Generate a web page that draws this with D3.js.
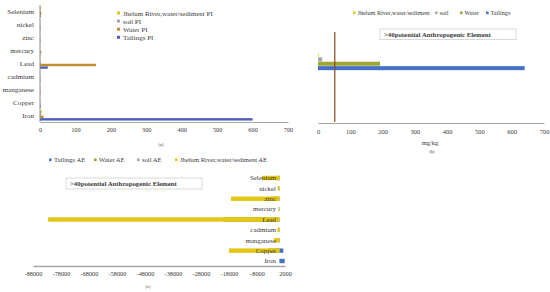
<!DOCTYPE html>
<html><head><meta charset="utf-8">
<script src="https://cdn.jsdelivr.net/npm/d3@7"></script>
<style>
body{margin:0;background:#fff}
svg{display:block}
text{font-family:"Liberation Serif","DejaVu Serif",serif;fill:#3a3a3a}
</style>
</head><body><svg width="550" height="292"></svg>
<script>
// ---------- data ----------
const elements = ["Selenium","nickel","zinc","mercury","Lead","cadmium","manganese","Copper","Iron"];

// panel (a) pollution index
const seriesA = ["Tailings PI","Water PI","soil  PI","Jhelum River,water/sediment PI"];
const tailingsPI = [2, 1, 1, 1, 22, 1, 1, 2, 600];
const waterPI    = [4, 1, 1, 4, 158, 1, 1, 1, 10];
const soilPI     = [1, 0.5, 0.5, 0.5, 2, 0.5, 0.5, 0.5, 3];
const jhelumPI   = [3, 0.5, 0.5, 1, 1, 0.5, 0.5, 0.5, 5];
const ticksA = [0,100,200,300,400,500,600,700];

// panel (b) mg/kg
const seriesB = ["Tailings","Water","soil","Jhelum River,water/sediment"];
const valuesB = [640, 192, 13, 2];
const thresholdB = 52;
const ticksB = [0,100,200,300,400,500,600,700];

// panel (c) anthropogenic element
const seriesC = ["Tailings AE","Water AE","soil  AE","Jhelum River,water/sediment AE"];
const tailingsAE = [0, 0, 0, 0, 0, 0, 0, 1400, 1900];
const waterAE    = [-1000, -200, -3000, -100, -20000, -200, -500, -4000, 0];
const soilAE     = [-300, -100, -500, -300, -3000, -100, -200, -800, 0];
const jhelumAE   = [-6200, -600, -17300, -200, -82600, -700, -1900, -18000, 0];
const ticksC = [-88000,-78000,-68000,-58000,-48000,-38000,-28000,-18000,-8000,2000];

const boxText = ">40potential Anthropogenic Element";

// ---------- drawing ----------
const svg = d3.select("svg");
const colA = {"Tailings PI":"#4f60c2","Water PI":"#c38f2e","soil  PI":"#a5a5a5","Jhelum River,water/sediment PI":"#d6c915"};
const colB = {"Tailings":"#4472c4","Water":"#9ea634","soil":"#a5a5a5","Jhelum River,water/sediment":"#d6d01c"};
const colC = {"Tailings AE":"#4472c4","Water AE":"#a99a2c","soil  AE":"#a5a5a5","Jhelum River,water/sediment AE":"#e3c60e"};

// ===== Panel (a) =====
{
  const dataA = {"Tailings PI":tailingsPI,"Water PI":waterPI,"soil  PI":soilPI,"Jhelum River,water/sediment PI":jhelumPI};
  const x = d3.scaleLinear().domain([0,700]).range([40,288]);
  const y = d3.scaleBand().domain(elements).range([5.5,122]).paddingInner(0.2).paddingOuter(0.1);
  const yi = d3.scaleBand().domain([...seriesA].reverse()).range([0,y.bandwidth()]);
  const g = svg.append("g");
  seriesA.forEach(s => {
    g.selectAll(null).data(elements).enter().append("rect")
      .attr("x", x(0)).attr("y", (d)=>y(d)+yi(s))
      .attr("width", (d,i)=>x(dataA[s][i])-x(0)).attr("height", yi.bandwidth()*0.95)
      .attr("fill", colA[s]);
  });
  g.append("line").attr("x1",x(0)).attr("x2",x(0)).attr("y1",5).attr("y2",122).attr("stroke","#8a8a8a").attr("stroke-width",1);
  const ax = g.append("g").attr("transform","translate(0,122)")
    .call(d3.axisBottom(x).tickValues(ticksA).tickSize(0).tickPadding(5.5).tickFormat(d=>String(d)));
  ax.select(".domain").attr("stroke","#a6a6a6");
  ax.selectAll("text").attr("font-size",6.3).style("font-family","Liberation Serif").attr("fill","#444");
  g.selectAll(null).data(elements).enter().append("text")
    .attr("x",34).attr("y",d=>y.step()/2 + y(d) - y.step()*0.1 + 2.3)
    .attr("text-anchor","end").attr("font-size",7.1).text(d=>d);
  const leg = [...seriesA].reverse();
  leg.forEach((s,i)=>{
    g.append("rect").attr("x",117).attr("y",11.5+i*8.1).attr("width",3).attr("height",3).attr("fill",colA[s]);
    g.append("text").attr("x",123).attr("y",15.5+i*8.1).attr("font-size",7).text(s.replace("  "," "));
  });
  g.append("text").attr("x",161).attr("y",146).attr("font-size",4.5).attr("text-anchor","middle").text("(a)");
}

// ===== Panel (b) =====
{
  const x = d3.scaleLinear().domain([0,700]).range([318,544]);
  const y = d3.scaleBand().domain([...seriesB].reverse()).range([53,70.5]);
  const g = svg.append("g");
  g.selectAll(null).data(seriesB).enter().append("rect")
    .attr("x",x(0)).attr("y",d=>y(d)).attr("width",(d,i)=>x(valuesB[i])-x(0))
    .attr("height",y.bandwidth()*0.92).attr("fill",d=>colB[d]);
  const ax = g.append("g").attr("transform","translate(0,123)")
    .call(d3.axisBottom(x).tickValues(ticksB).tickSize(0).tickPadding(6.5).tickFormat(d=>String(d)));
  ax.select(".domain").attr("stroke","#a6a6a6");
  ax.selectAll("text").attr("font-size",6.5).style("font-family","Liberation Serif").attr("fill","#444");
  g.append("line").attr("x1",x(thresholdB)).attr("x2",x(thresholdB)).attr("y1",32).attr("y2",122)
    .attr("stroke","#8b4a1c").attr("stroke-width",1.2);
  g.append("rect").attr("x",380).attr("y",29).attr("width",136).attr("height",10.5)
    .attr("fill","#fff").attr("stroke","#cfcfcf").attr("stroke-width",0.8);
  g.append("text").attr("x",384).attr("y",36.8).attr("font-size",6.8).attr("font-weight","bold").attr("fill","#222").text(boxText);
  const legX = [353, 435, 460, 486];
  [...seriesB].reverse().forEach((s,i)=>{
    g.append("rect").attr("x",legX[i]).attr("y",11.5).attr("width",2.6).attr("height",2.6).attr("fill",colB[s]);
    g.append("text").attr("x",legX[i]+4.5).attr("y",15).attr("font-size",6.2).text(s);
  });
  g.append("text").attr("x",430).attr("y",145).attr("font-size",6.5).attr("text-anchor","middle").text("mg/kg");
  g.append("text").attr("x",432).attr("y",153).attr("font-size",4.5).attr("text-anchor","middle").text("(b)");
}

// ===== Panel (c) =====
{
  const dataC = {"Tailings AE":tailingsAE,"Water AE":waterAE,"soil  AE":soilAE,"Jhelum River,water/sediment AE":jhelumAE};
  const x = d3.scaleLinear().domain([-88000,2000]).range([33,285]);
  const y = d3.scaleBand().domain(elements).range([172.8,266.2]);
  const g = svg.append("g");
  const bh = 4.4;
  seriesC.forEach(s=>{
    g.selectAll(null).data(elements).enter().append("rect")
      .attr("x",(d,i)=>Math.min(x(0),x(dataC[s][i])))
      .attr("y",d=>y(d)+y.bandwidth()/2-bh/2)
      .attr("width",(d,i)=>Math.abs(x(dataC[s][i])-x(0)))
      .attr("height",bh).attr("fill",colC[s]);
  });
  const ax = g.append("g").attr("transform","translate(0,266)")
    .call(d3.axisBottom(x).tickValues(ticksC).tickSize(0).tickPadding(5.5).tickFormat(d=>String(d)));
  ax.select(".domain").attr("stroke","#a6a6a6").attr("stroke-width",1.4);
  ax.selectAll("text").attr("font-size",6.3).style("font-family","Liberation Serif").attr("fill","#444");
  g.selectAll(null).data(elements).enter().append("text")
    .attr("x",276).attr("y",d=>y(d)+y.bandwidth()/2+2.3)
    .attr("text-anchor","end").attr("font-size",6.9).attr("fill","#333").text(d=>d);
  g.append("rect").attr("x",66).attr("y",178).attr("width",136).attr("height",11)
    .attr("fill","#fff").attr("stroke","#cfcfcf").attr("stroke-width",0.8);
  g.append("text").attr("x",70).attr("y",186).attr("font-size",6.8).attr("font-weight","bold").attr("fill","#222").text(boxText);
  const legX = [49, 94, 137, 175];
  seriesC.forEach((s,i)=>{
    g.append("rect").attr("x",legX[i]).attr("y",158.5).attr("width",2.6).attr("height",2.6).attr("fill",colC[s]);
    g.append("text").attr("x",legX[i]+5).attr("y",162).attr("font-size",6.6).text(s.replace("  "," "));
  });
  g.append("text").attr("x",148).attr("y",288).attr("font-size",4.5).attr("text-anchor","middle").text("(c)");
}
</script>
</body></html>
